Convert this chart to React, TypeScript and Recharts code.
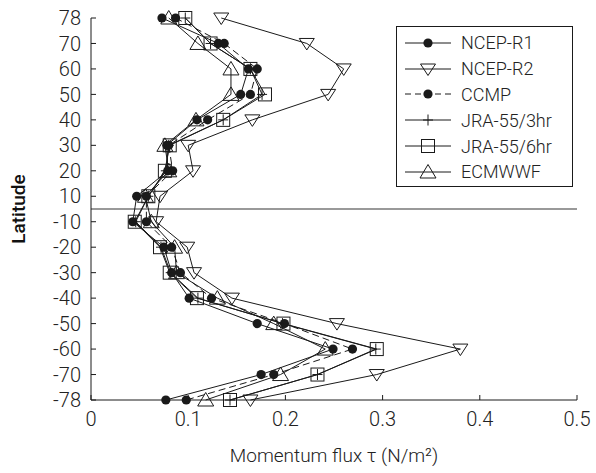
import React from "react";
import { ScatterChart, Scatter, XAxis, YAxis, ReferenceLine, Label } from "recharts";

// latitude rows, top to bottom (equal spacing, equator gap between 10 and -10)
const LATS = [78, 70, 60, 50, 40, 30, 20, 10, -10, -20, -30, -40, -50, -60, -70, -78];
const X_TICKS = [0, 0.1, 0.2, 0.3, 0.4, 0.5];

const NCEP_R1 = [0.073, 0.131, 0.162, 0.154, 0.109, 0.078, 0.079, 0.047, 0.043, 0.075, 0.083, 0.101, 0.171, 0.249, 0.175, 0.077];
const NCEP_R2 = [0.134, 0.222, 0.26, 0.244, 0.166, 0.1, 0.105, 0.071, 0.067, 0.099, 0.106, 0.145, 0.253, 0.38, 0.294, 0.164];
const CCMP = [0.087, 0.137, 0.171, 0.164, 0.12, 0.08, 0.084, 0.057, 0.057, 0.083, 0.092, 0.124, 0.199, 0.269, 0.188, 0.098];
const JRA_3HR = [0.097, 0.123, 0.164, 0.176, 0.136, 0.08, 0.077, 0.059, 0.046, 0.072, 0.082, 0.11, 0.197, 0.293, 0.233, 0.143];
const JRA_6HR = [0.097, 0.123, 0.164, 0.179, 0.136, 0.081, 0.076, 0.059, 0.045, 0.071, 0.081, 0.109, 0.198, 0.294, 0.233, 0.143];
const ECMWF = [0.08, 0.11, 0.144, 0.144, 0.108, 0.076, 0.08, 0.056, 0.062, 0.086, 0.088, 0.13, 0.188, 0.241, 0.195, 0.118];

type Marker = "dot" | "down" | "plus" | "square" | "up";

const SERIES: { name: string; values: number[]; marker: Marker; dashed?: boolean }[] = [
  { name: "NCEP-R1", values: NCEP_R1, marker: "dot" },
  { name: "NCEP-R2", values: NCEP_R2, marker: "down" },
  { name: "CCMP", values: CCMP, marker: "dot", dashed: true },
  { name: "JRA-55/3hr", values: JRA_3HR, marker: "plus" },
  { name: "JRA-55/6hr", values: JRA_6HR, marker: "square" },
  { name: "ECMWWF", values: ECMWF, marker: "up" },
];

const INK = "#1a1a1a";
const FONT = "Roboto, 'Open Sans', sans-serif";
const TOP = LATS.length - 1;

function drawMarker(kind: Marker, cx: number, cy: number) {
  switch (kind) {
    case "dot":
      return <circle cx={cx} cy={cy} r={4.6} fill={INK} />;
    case "down":
      return (
        <polygon
          points={`${cx - 7.5},${cy - 5} ${cx + 7.5},${cy - 5} ${cx},${cy + 6.5}`}
          fill="none"
          stroke={INK}
          strokeWidth={1}
        />
      );
    case "plus":
      return (
        <g stroke={INK} strokeWidth={1}>
          <line x1={cx - 5} y1={cy} x2={cx + 5} y2={cy} />
          <line x1={cx} y1={cy - 5.5} x2={cx} y2={cy + 5.5} />
        </g>
      );
    case "square":
      return <rect x={cx - 6.5} y={cy - 6.5} width={13} height={13} fill="none" stroke={INK} strokeWidth={1} />;
    case "up":
      return (
        <polygon
          points={`${cx - 8},${cy + 6} ${cx + 8},${cy + 6} ${cx},${cy - 7.5}`}
          fill="none"
          stroke={INK}
          strokeWidth={1}
        />
      );
  }
}

function LegendBox() {
  return (
    <div
      style={{
        position: "absolute",
        left: 396,
        top: 26,
        width: 175,
        height: 156,
        border: `1px solid ${INK}`,
        background: "#fff",
        paddingTop: 3,
        boxSizing: "content-box",
      }}
    >
      {SERIES.map((s) => (
        <div key={s.name} style={{ display: "flex", alignItems: "center", height: 25.8 }}>
          <svg width={50} height={24} style={{ marginLeft: 7, flex: "none" }}>
            <line
              x1={1}
              y1={12}
              x2={47}
              y2={12}
              stroke={INK}
              strokeWidth={1}
              strokeDasharray={s.dashed ? "6 4" : undefined}
            />
            {drawMarker(s.marker, 24, 12)}
          </svg>
          <span style={{ marginLeft: 7, fontFamily: FONT, fontWeight: 300, fontSize: 18, color: "#222" }}>
            {s.name}
          </span>
        </div>
      ))}
    </div>
  );
}

export default function App() {
  return (
    <div style={{ position: "absolute", left: 0, top: 0, width: 596, height: 473, background: "#fff" }}>
      <ScatterChart width={596} height={473} margin={{ top: 18, right: 19, bottom: 0, left: 0 }}>
        <XAxis
          xAxisId="bottom"
          type="number"
          dataKey="x"
          domain={[0, 0.5]}
          ticks={X_TICKS}
          orientation="bottom"
          height={73}
          stroke={INK}
          tickSize={-5}
          tickMargin={17}
          tickFormatter={(v: number) => String(v)}
          tick={{ fill: "#222", fontSize: 20, fontFamily: FONT, fontWeight: 300 }}
        >
          <Label
            value="Momentum flux τ (N/m²)"
            position="center"
            dy={19}
            style={{ fill: "#222", fontSize: 19, fontFamily: FONT, fontWeight: 300 }}
          />
        </XAxis>
        <XAxis
          xAxisId="top"
          type="number"
          dataKey="x"
          domain={[0, 0.5]}
          ticks={X_TICKS}
          orientation="top"
          height={0}
          stroke={INK}
          tickSize={-5}
          tickFormatter={() => ""}
        />
        <YAxis
          yAxisId="left"
          type="number"
          dataKey="y"
          domain={[0, TOP]}
          ticks={LATS.map((_, i) => i)}
          interval={0}
          width={91}
          stroke={INK}
          tickSize={-5}
          tickMargin={15}
          tickFormatter={(v: number) => String(LATS[TOP - v])}
          tick={{ fill: "#222", fontSize: 20, fontFamily: FONT, fontWeight: 300 }}
        >
          <Label
            value="Latitude"
            angle={-90}
            position="center"
            dx={-27}
            style={{ fill: "#111", fontSize: 19, fontFamily: FONT, fontWeight: 500 }}
          />
        </YAxis>
        <YAxis
          yAxisId="right"
          orientation="right"
          type="number"
          dataKey="y"
          domain={[0, TOP]}
          ticks={LATS.map((_, i) => i)}
          interval={0}
          width={0}
          stroke={INK}
          tickSize={-5}
          tickFormatter={() => ""}
        />
        <ReferenceLine xAxisId="bottom" yAxisId="left" y={TOP / 2} stroke="#777" strokeWidth={1.5} />
        {SERIES.map((s) => (
          <Scatter
            key={s.name}
            name={s.name}
            xAxisId="bottom"
            yAxisId="left"
            data={s.values.map((v, i) => ({ x: v, y: TOP - i }))}
            line={{ stroke: INK, strokeWidth: 1, strokeDasharray: s.dashed ? "7 4" : undefined }}
            lineJointType="linear"
            shape={(p: any) => drawMarker(s.marker, p.cx, p.cy)}
            isAnimationActive={false}
          />
        ))}
      </ScatterChart>
      <LegendBox />
    </div>
  );
}
